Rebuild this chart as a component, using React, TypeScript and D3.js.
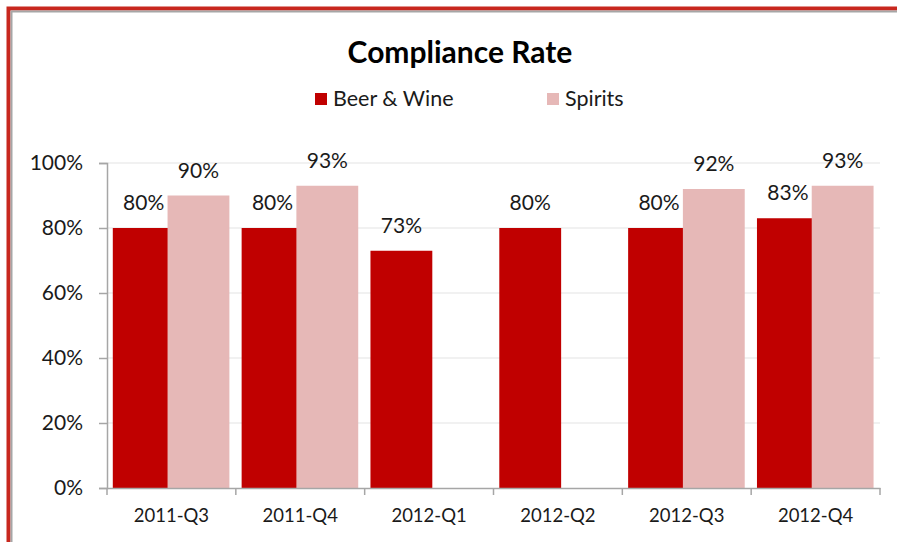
import React, { useRef, useEffect } from "react";
import * as d3 from "d3";

const quarters = ["2011-Q3", "2011-Q4", "2012-Q1", "2012-Q2", "2012-Q3", "2012-Q4"];
const beerWine: (number | null)[] = [0.8, 0.8, 0.73, 0.8, 0.8, 0.83];
const spirits: (number | null)[] = [0.9, 0.93, null, null, 0.92, 0.93];
const yTicks = [0, 0.2, 0.4, 0.6, 0.8, 1.0];

const RED = "#c00000";
const PINK = "#e6b8b7";
const FONT = "Lato, 'Open Sans', sans-serif";

const App = () => {
  const svgRef = useRef<SVGSVGElement>(null);

  useEffect(() => {
    const svg = d3.select(svgRef.current);
    const width = 897;
    const height = 542;
    const margin = { top: 163, right: 17, bottom: 54, left: 107 };

    svg.attr("width", width).attr("height", height);
    svg.selectAll("*").remove();

    svg.append("rect").attr("width", width).attr("height", height).attr("fill", "#fff");

    // frame (red + gray inner line, only top and left in view)
    svg.append("path")
      .attr("d", `M${8.5},${height} V${8.5} H${width}`)
      .attr("fill", "none").attr("stroke", "#c8281e").attr("stroke-width", 4);
    svg.append("path")
      .attr("d", `M${11.5},${height} V${11.5} H${width}`)
      .attr("fill", "none").attr("stroke", "#a6a6a6").attr("stroke-width", 2);

    const x = d3.scaleBand()
      .domain(quarters)
      .range([margin.left, width - margin.right])
      .paddingInner(0)
      .paddingOuter(0);

    const y = d3.scaleLinear()
      .domain([0, 1])
      .range([height - margin.bottom, margin.top]);

    const bw = x.bandwidth();
    const barW = bw * 0.48;
    const offset = bw * 0.045;
    const shift = bw * 0.425;

    // gridlines
    svg.append("g")
      .selectAll("line")
      .data(yTicks.slice(1))
      .join("line")
      .attr("x1", margin.left).attr("x2", width - margin.right)
      .attr("y1", (d) => y(d)).attr("y2", (d) => y(d))
      .attr("stroke", "#ececec").attr("stroke-width", 1.5);

    // title
    svg.append("text")
      .attr("x", 460).attr("y", 63)
      .attr("text-anchor", "middle")
      .attr("font-family", FONT).attr("font-weight", 700)
      .attr("font-size", 30).attr("fill", "#000")
      .text("Compliance Rate");

    // legend
    const legend = [
      { name: "Beer & Wine", color: RED, x: 315 },
      { name: "Spirits", color: PINK, x: 547 },
    ];
    const lg = svg.append("g").selectAll("g").data(legend).join("g")
      .attr("transform", (d) => `translate(${d.x},93)`);
    lg.append("rect").attr("width", 12).attr("height", 12).attr("fill", (d) => d.color);
    lg.append("text")
      .attr("x", 18).attr("y", 13)
      .attr("font-family", FONT).attr("font-size", 21.5).attr("fill", "#1a1a1a")
      .text((d) => d.name);

    // bars
    const series = [
      { values: beerWine, color: RED, dx: offset },
      { values: spirits, color: PINK, dx: offset + shift },
    ];
    series.forEach((s) => {
      const pts = quarters
        .map((q, i) => ({ q, v: s.values[i] }))
        .filter((d) => d.v != null) as { q: string; v: number }[];
      svg.append("g")
        .selectAll("rect")
        .data(pts)
        .join("rect")
        .attr("x", (d) => x(d.q)! + s.dx)
        .attr("y", (d) => y(d.v))
        .attr("width", barW)
        .attr("height", (d) => y(0) - y(d.v))
        .attr("fill", s.color);
    });
    series.forEach((s) => {
      const pts = quarters
        .map((q, i) => ({ q, v: s.values[i] }))
        .filter((d) => d.v != null) as { q: string; v: number }[];
      svg.append("g")
        .selectAll("text")
        .data(pts)
        .join("text")
        .attr("x", (d) => x(d.q)! + s.dx + barW / 2)
        .attr("y", (d) => y(d.v) - 18)
        .attr("text-anchor", "middle")
        .attr("font-family", FONT).attr("font-size", 21).attr("fill", "#1a1a1a")
        .text((d) => d3.format(".0%")(d.v));
    });

    // y axis
    const yAxis = svg.append("g")
      .attr("transform", `translate(${margin.left},0)`)
      .call(d3.axisLeft(y).tickValues(yTicks).tickFormat(d3.format(".0%")).tickSize(8).tickPadding(16));
    yAxis.selectAll("text")
      .attr("font-family", FONT).attr("font-size", 21).attr("fill", "#1a1a1a");

    // x axis
    const xAxis = svg.append("g")
      .attr("transform", `translate(0,${height - margin.bottom})`)
      .call(d3.axisBottom(x).tickSize(0).tickPadding(21));
    xAxis.selectAll("text")
      .attr("font-family", FONT).attr("font-size", 18.5).attr("fill", "#1a1a1a");
    // category separators
    xAxis.append("g")
      .selectAll("line")
      .data(quarters.concat(["end"]))
      .join("line")
      .attr("x1", (d) => (d === "end" ? width - margin.right : x(d)!))
      .attr("x2", (d) => (d === "end" ? width - margin.right : x(d)!))
      .attr("y1", 0).attr("y2", 7)
      .attr("stroke", "#a6a6a6").attr("stroke-width", 1.5);

    svg.selectAll(".domain").attr("stroke", "#a6a6a6").attr("stroke-width", 1.5);
    yAxis.selectAll(".tick line").attr("stroke", "#a6a6a6").attr("stroke-width", 1.5);
  }, []);

  return (
    <div style={{ position: "absolute", left: 0, top: 0 }}>
      <svg ref={svgRef} style={{ display: "block" }}></svg>
    </div>
  );
};

export default App;
